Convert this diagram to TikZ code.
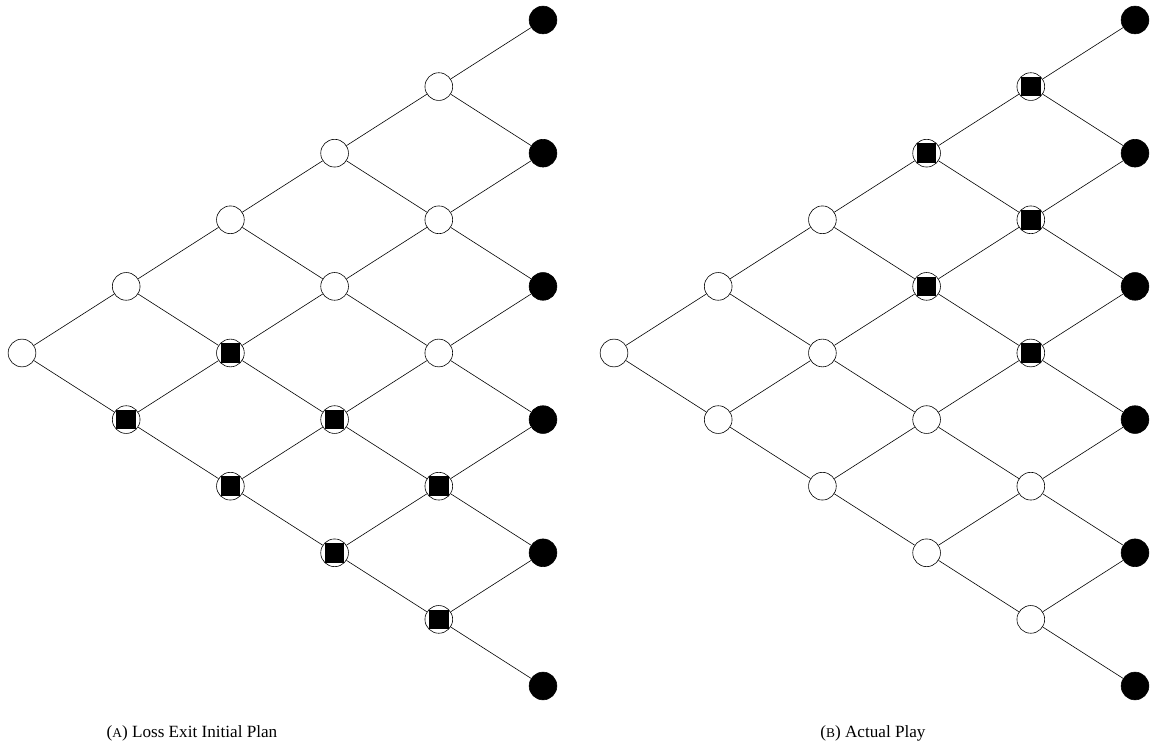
\documentclass[tikz,border=0pt]{standalone}
\usepackage{fontspec}
\setmainfont{Liberation Serif}
\usetikzlibrary{positioning}

\newcommand{\fakesc}[1]{{\fontsize{9}{10}\selectfont #1}}

\begin{document}
\begin{tikzpicture}[
  x=0.671pt, y=0.671pt,
  open/.style={circle,draw,fill=white,minimum size=18.6pt,inner sep=0pt},
  leaf/.style={circle,draw,fill=black,minimum size=18.6pt,inner sep=0pt},
  held/.style={fill=black},
  caption/.style={anchor=base,inner sep=0pt,font=\fontsize{11.5}{13}\selectfont}
]
\useasboundingbox (0,0) rectangle (1150,751);

% the two lattices, A on the left and B on the right
\foreach \t/\ox in {a/22,b/614} {
  \foreach \i in {0,...,5} {
    \foreach \k in {0,...,\i} {
      \ifnum\i=5
        \node[leaf] (\t-\i-\k) at ({\ox+104.2*\i},{398+66.6*\i-133.2*\k}) {};
      \else
        \node[open] (\t-\i-\k) at ({\ox+104.2*\i},{398+66.6*\i-133.2*\k}) {};
      \fi
    }
  }
  \foreach \i in {0,...,4} {
    \foreach \k in {0,...,\i} {
      \pgfmathtruncatemacro\j{\i+1}
      \pgfmathtruncatemacro\m{\k+1}
      \draw (\t-\i-\k) -- (\t-\j-\k);
      \draw (\t-\i-\k) -- (\t-\j-\m);
    }
  }
}

% nodes where the position is held
\foreach \n in {a-1-1,a-2-1,a-2-2,a-3-2,a-3-3,a-4-3,a-4-4,
                b-3-0,b-3-1,b-4-0,b-4-1,b-4-2}
  \fill[held] (\n) ++(-6.6pt,-6.6pt) rectangle ++(13.2pt,13.2pt);

\node[caption] (capa) at (192,13) {(\fakesc{A}) Loss Exit Initial Plan};
\node[caption] (capb) at (873,13) {(\fakesc{B}) Actual Play};
\end{tikzpicture}
\end{document}
